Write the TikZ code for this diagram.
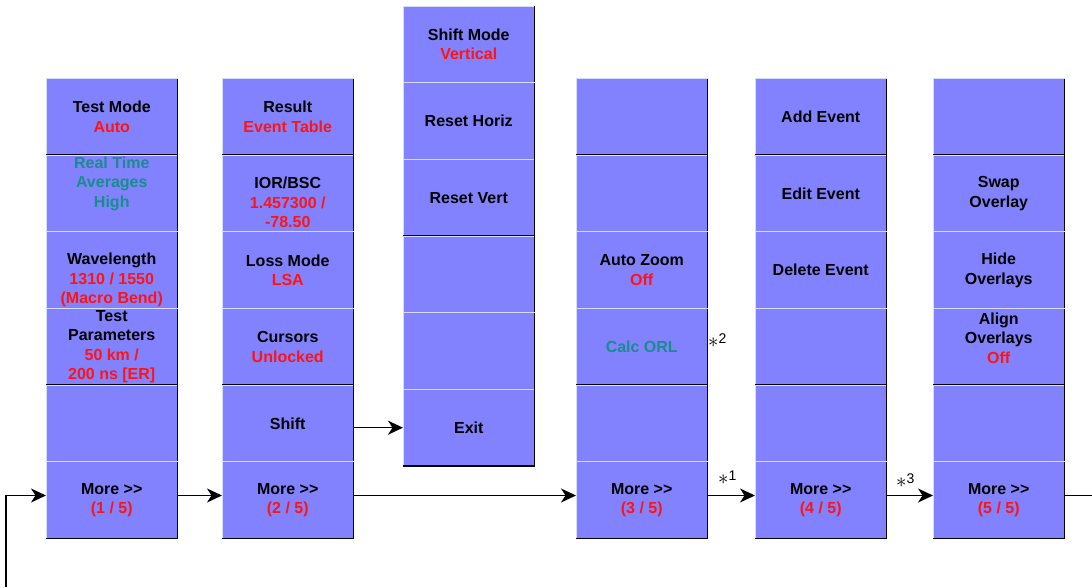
\documentclass[tikz,border=0pt]{standalone}
\usepackage{fontspec}
\setmainfont{Liberation Sans}
\usetikzlibrary{arrows.meta}
\definecolor{btnfill}{RGB}{130,130,255}
\definecolor{btnlight}{RGB}{215,220,255}
\definecolor{valred}{RGB}{255,20,20}
\definecolor{valteal}{RGB}{25,140,140}
\newcommand{\more}{More {>}{>}}
\newcommand{\fnmark}[1]{\fontsize{22}{22}\selectfont$\ast$\raisebox{3.5pt}{\fontsize{14}{14}\selectfont #1}}
\begin{document}
\begin{tikzpicture}[x=1pt,y=-1pt,
  btn/.style={rectangle, fill=btnfill, draw=none, minimum width=131.5pt, minimum height=76.67pt, inner sep=0pt, outer sep=0pt},
  txt/.style={align=center, font=\bfseries\fontsize{16}{19.5}\selectfont, inner sep=0pt, text=black},
  supl/.style={anchor=base west, inner sep=0pt},
  link/.style={line width=1.6pt, -{Stealth[length=15pt,width=14pt,inset=4.5pt]}},
  plain/.style={line width=1.6pt}]
\useasboundingbox (0,0) rectangle (1092,587);
% buttons
\foreach \c/\x/\t in {1/111.75/78.5, 2/287.75/78.5, 3/468.75/6, 4/641.75/78.5, 5/820.75/78.5, 6/998.75/78.5}{
  \foreach \r in {1,...,6}{
    \node[btn] (c\c r\r) at (\x, {\t+76.67*\r-38.33}) {};
    \draw[btnlight, line width=1pt] (c\c r\r.south west) -- (c\c r\r.north west) -- (c\c r\r.north east);
    \draw[black, line width=1.5pt] (c\c r\r.north east) -- (c\c r\r.south east) -- (c\c r\r.south west);
  }
}
% column 1
\node[txt] (t11) at (c1r1) {Test Mode\\\textcolor{valred}{Auto}};
\node[txt, text=valteal] (t12) at ([yshift=10pt]c1r2.center) {Real Time\\Averages\\High};
\node[txt] (t13) at ([yshift=-10pt]c1r3.center) {Wavelength\\\textcolor{valred}{1310 / 1550}\\\textcolor{valred}{(Macro Bend)}};
\node[txt] (t14) at (c1r4) {Test\\Parameters\\\textcolor{valred}{50 km /}\\\textcolor{valred}{200 ns [ER]}};
\node[txt] (t16) at (c1r6) {\more\\\textcolor{valred}{(1 / 5)}};
% column 2
\node[txt] (t21) at (c2r1) {Result\\\textcolor{valred}{Event Table}};
\node[txt] (t22) at ([yshift=-9pt]c2r2.center) {IOR/BSC\\\textcolor{valred}{1.457300 /}\\\textcolor{valred}{-78.50}};
\node[txt] (t23) at (c2r3) {Loss Mode\\\textcolor{valred}{LSA}};
\node[txt] (t24) at (c2r4) {Cursors\\\textcolor{valred}{Unlocked}};
\node[txt] (t25) at (c2r5) {Shift};
\node[txt] (t26) at (c2r6) {\more\\\textcolor{valred}{(2 / 5)}};
% column 3
\node[txt] (t31) at (c3r1) {Shift Mode\\\textcolor{valred}{Vertical}};
\node[txt] (t32) at (c3r2) {Reset Horiz};
\node[txt] (t33) at (c3r3) {Reset Vert};
\node[txt] (t36) at (c3r6) {Exit};
% column 4
\node[txt] (t43) at (c4r3) {Auto Zoom\\\textcolor{valred}{Off}};
\node[txt, text=valteal] (t44) at (c4r4) {Calc ORL};
\node[txt] (t46) at (c4r6) {\more\\\textcolor{valred}{(3 / 5)}};
% column 5
\node[txt] (t51) at (c5r1) {Add Event};
\node[txt] (t52) at (c5r2) {Edit Event};
\node[txt] (t53) at (c5r3) {Delete Event};
\node[txt] (t56) at (c5r6) {\more\\\textcolor{valred}{(4 / 5)}};
% column 6
\node[txt] (t62) at (c6r2) {Swap\\Overlay};
\node[txt] (t63) at (c6r3) {Hide\\Overlays};
\node[txt] (t64) at ([yshift=9pt]c6r4.center) {Align\\Overlays\\\textcolor{valred}{Off}};
\node[txt] (t66) at (c6r6) {\more\\\textcolor{valred}{(5 / 5)}};
% footnote marks
\node[supl] (s2) at (708,347) {\fnmark{2}};
\node[supl] (s1) at (718,484) {\fnmark{1}};
\node[supl] (s3) at (896,487) {\fnmark{3}};
% connectors
\coordinate (loopin) at (6,587);
\path ([yshift=4.7pt]c6r6.east) ++(40,0) coordinate (loopout);
\draw[link] (loopin) |- ([yshift=4.7pt]c1r6.west);
\draw[link] ([yshift=4.7pt]c1r6.east) -- ([yshift=4.7pt]c2r6.west);
\draw[link] (c3r6.west -| c2r5.east) -- (c3r6.west);
\draw[link] ([yshift=4.7pt]c2r6.east) -- ([yshift=4.7pt]c4r6.west);
\draw[link] ([yshift=4.7pt]c4r6.east) -- ([yshift=4.7pt]c5r6.west);
\draw[link] ([yshift=4.7pt]c5r6.east) -- ([yshift=4.7pt]c6r6.west);
\draw[plain] ([yshift=4.7pt]c6r6.east) -- (loopout);
\end{tikzpicture}
\end{document}
